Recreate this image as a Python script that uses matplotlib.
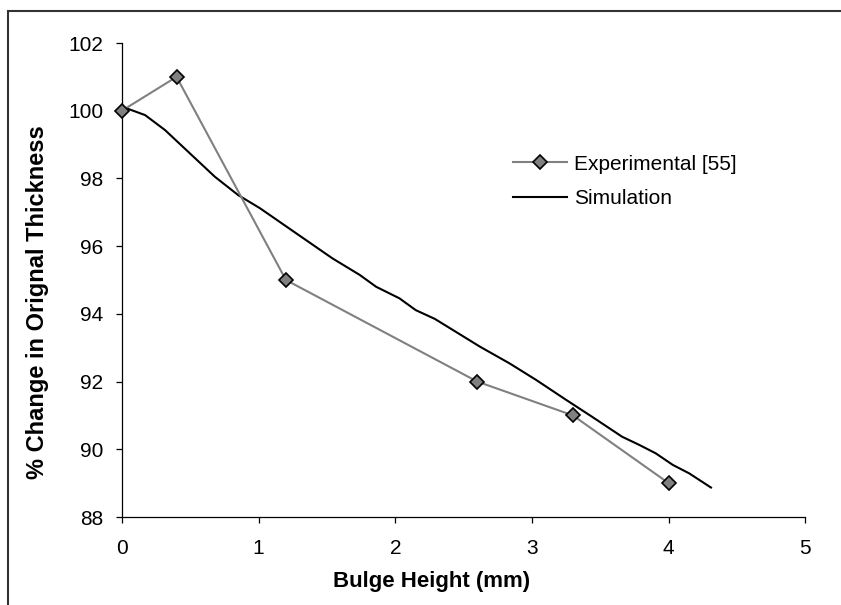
import matplotlib
matplotlib.use("Agg")
import matplotlib.pyplot as plt
from matplotlib.patches import Rectangle

plt.rcParams['font.family'] = ['Liberation Sans', 'DejaVu Sans']

exp_x = [0, 0.4, 1.2, 2.6, 3.3, 4.0]
exp_y = [100, 101, 95, 92, 91, 89]

sim_x = [0.0, 0.035, 0.17, 0.315, 0.68, 0.85, 1.01, 1.30, 1.54, 1.74, 1.86, 2.03,
         2.15, 2.29, 2.62, 2.835, 3.03, 3.25, 3.44, 3.66, 3.785, 3.906, 4.03, 4.15, 4.31]
sim_y = [100.1, 100.07, 99.87, 99.43, 98.05, 97.51, 97.12, 96.31, 95.64, 95.15, 94.80, 94.46,
         94.11, 93.85, 93.03, 92.54, 92.05, 91.46, 90.96, 90.37, 90.13, 89.88, 89.54, 89.29, 88.87]

x_ticks = [0, 1, 2, 3, 4, 5]
y_ticks = [88, 90, 92, 94, 96, 98, 100, 102]

fig = plt.figure(figsize=(8.41, 6.05), dpi=100)
ax = fig.add_axes([121.9/841, 88/605, (805.3-121.9)/841, (517-43)/605])

ax.plot(exp_x, exp_y, color='#808080', lw=1.5, marker='D', ms=7,
        markerfacecolor='#808080', markeredgecolor='black', markeredgewidth=1.2,
        label='Experimental [55]', zorder=3, clip_on=False)
ax.plot(sim_x, sim_y, color='black', lw=1.5, label='Simulation', zorder=2)

ax.set_xlim(0, 5)
ax.set_ylim(88, 102)
ax.set_xticks(x_ticks)
ax.set_yticks(y_ticks)
ax.spines['top'].set_visible(False)
ax.spines['right'].set_visible(False)
ax.spines['left'].set_linewidth(0.9)
ax.spines['bottom'].set_linewidth(0.9)
ax.tick_params(direction='out', length=4.5, width=0.9, labelsize=15, pad=9)
ax.tick_params(axis='x', pad=11)

fig.text(432/841, 1-582/605, 'Bulge Height (mm)', ha='center', va='center',
         fontsize=16, fontweight='bold')
fig.text(38/841, 1-302/605, '% Change in Orignal Thickness', ha='center', va='center',
         rotation=90, fontsize=17, fontweight='bold')

leg = ax.legend(loc='center left', bbox_to_anchor=(513/841, 1-181.5/605),
                bbox_transform=fig.transFigure, frameon=False, fontsize=15,
                handlelength=2.6, handletextpad=0.33, borderpad=0, borderaxespad=0,
                labelspacing=0.75)

fig.patches.append(Rectangle((8/841, -0.2), 1.2, 1 - 11/605 + 0.2, transform=fig.transFigure,
                             fill=False, edgecolor='#333333', lw=1.5, clip_on=False))

fig.savefig('out.png', dpi=100)
